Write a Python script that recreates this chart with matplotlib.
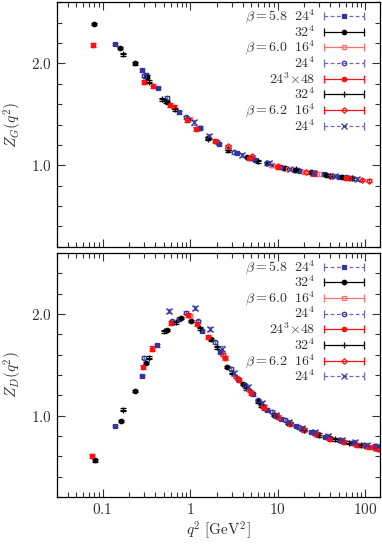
import matplotlib
matplotlib.use("Agg")
import matplotlib.pyplot as plt
from matplotlib.ticker import MultipleLocator, FixedLocator, LogLocator, NullFormatter, FuncFormatter

plt.rcParams['mathtext.fontset'] = 'cm'
plt.rcParams['font.family'] = 'serif'
plt.rcParams['font.serif'] = ['DejaVu Serif']

# ---- data: gluon dressing function Z_G(q^2) ----
g58_24_x = [0.14, 0.28, 0.315, 0.43, 0.75, 1.3, 2.14, 3.4, 5.5, 8.5, 11.8, 18, 27, 34, 50, 68]
g58_24_y = [2.19, 1.93, 1.89, 1.76, 1.52, 1.37, 1.21, 1.12, 1.05, 1.00, 0.97, 0.94, 0.92, 0.91, 0.89, 0.88]
g58_32_x = [0.080, 0.159, 0.236, 0.323, 0.55, 0.95, 1.6, 2.7, 4.5, 7.5, 12, 15.7, 24, 36, 55]
g58_32_y = [2.386, 2.15, 2.00, 1.87, 1.62, 1.45, 1.27, 1.16, 1.08, 1.02, 0.97, 0.95, 0.93, 0.905, 0.885]
g60_16_x = [1.0, 2.7, 5.0, 8.6, 13, 20, 30]
g60_16_y = [1.45, 1.18, 1.08, 1.00, 0.965, 0.935, 0.915]
g60_24_x = [0.30, 0.55, 0.90, 1.3, 2.0, 3.2, 5.0, 7.5, 11, 17, 26, 40, 60]
g60_24_y = [1.88, 1.66, 1.47, 1.37, 1.23, 1.13, 1.07, 1.02, 0.98, 0.95, 0.925, 0.90, 0.885]
g60_2448_x = [0.077, 0.30, 0.378, 0.59, 0.66, 0.92, 1.17, 1.9, 4.7, 10, 26, 61]
g60_2448_y = [2.18, 1.82, 1.78, 1.59, 1.57, 1.44, 1.36, 1.24, 1.07, 0.98, 0.92, 0.88]
g60_32_x = [0.172, 0.34, 0.48, 0.53, 0.67, 1.6, 2.7, 6.0, 16, 40, 70]
g60_32_y = [2.09, 1.82, 1.65, 1.63, 1.55, 1.26, 1.15, 1.04, 0.96, 0.90, 0.875]
g62_16_x = [2.7, 5.1, 10, 21, 42, 65, 91, 110]
g62_16_y = [1.185, 1.09, 0.99, 0.93, 0.90, 0.875, 0.855, 0.85]
g62_24_x = [1.1, 1.65, 3.9, 8.0, 14, 25, 45, 80]
g62_24_y = [1.42, 1.29, 1.10, 1.02, 0.965, 0.925, 0.895, 0.87]

# ---- data: ghost dressing function Z_D(q^2) ----
d58_24_x = [0.14, 0.28, 0.42, 0.75, 1.38, 2.2, 3.5, 5.2, 7.5, 11, 16, 24, 35, 50, 70, 95, 130]
d58_24_y = [0.90, 1.39, 1.69, 1.95, 1.83, 1.63, 1.36, 1.21, 1.06, 0.97, 0.90, 0.84, 0.79, 0.76, 0.73, 0.71, 0.70]
d58_32_x = [0.082, 0.16, 0.236, 0.315, 0.55, 0.78, 1.02, 1.72, 2.66, 4.0, 6.0, 9, 13, 19, 28, 40, 55]
d58_32_y = [0.56, 0.945, 1.245, 1.52, 1.84, 1.96, 1.93, 1.75, 1.48, 1.31, 1.14, 1.01, 0.93, 0.87, 0.82, 0.78, 0.75]
d60_16_x = [1.0, 2.5, 4.5, 7, 10, 14, 20, 28]
d60_16_y = [1.98, 1.57, 1.27, 1.09, 0.99, 0.92, 0.86, 0.82]
d60_24_x = [0.30, 0.62, 0.89, 1.23, 1.9, 2.9, 4.2, 6, 8.5, 12, 17, 25, 36, 52, 75]
d60_24_y = [1.57, 1.93, 2.01, 1.93, 1.72, 1.46, 1.30, 1.15, 1.04, 0.96, 0.89, 0.835, 0.795, 0.76, 0.73]
d60_2448_x = [0.076, 0.29, 0.37, 0.60, 0.95, 1.21, 1.58, 2.5, 3.6, 5, 7, 10, 14, 20, 28, 40, 57, 80, 110, 140]
d60_2448_y = [0.60, 1.48, 1.66, 1.91, 1.99, 1.90, 1.77, 1.57, 1.35, 1.22, 1.08, 0.985, 0.92, 0.86, 0.82, 0.775, 0.745, 0.715, 0.69, 0.675]
d60_32_x = [0.172, 0.34, 0.505, 0.69, 1.3, 2.0, 3.0, 4.4, 6.5, 9.5, 14, 20, 30, 45, 65, 90]
d60_32_y = [1.06, 1.57, 1.83, 1.92, 1.86, 1.67, 1.42, 1.27, 1.10, 1.00, 0.925, 0.86, 0.81, 0.77, 0.735, 0.71]
d62_16_x = [2.4, 3.3, 4.8, 6.8, 9.5, 13.5, 19, 27, 38, 54, 76, 100, 125, 145]
d62_16_y = [1.60, 1.38, 1.24, 1.09, 1.00, 0.93, 0.87, 0.82, 0.78, 0.75, 0.72, 0.70, 0.685, 0.675]
d62_24_x = [0.575, 1.13, 1.69, 2.29, 3.2, 4.6, 6.6, 9.5, 13.5, 19, 27, 38, 54, 76, 105, 140]
d62_24_y = [2.03, 2.06, 1.85, 1.66, 1.42, 1.28, 1.12, 1.01, 0.94, 0.88, 0.835, 0.80, 0.765, 0.74, 0.715, 0.70]

labels = [r'$\beta = 5.8\ \ 24^4$', r'$32^4$', r'$\beta = 6.0\ \ 16^4$', r'$24^4$',
          r'$24^3{\times}48$', r'$32^4$', r'$\beta = 6.2\ \ 16^4$', r'$24^4$']
errors = [0.012, 0.012, 0.015, 0.015, 0.02, 0.015, 0.012, 0.02]

BLUE = '#34349c'
BLUE_L = '#6a6ab8'
RED = '#ff1010'
RED_L = '#ff7070'

# marker, colour, facecolour, legend line colour, dashed
styles = [
    ('s', BLUE, BLUE, BLUE_L, True),
    ('o', 'black', 'black', 'black', False),
    ('s', RED_L, 'none', RED_L, False),
    ('o', BLUE, 'none', BLUE_L, True),
    ('o', RED, RED, RED, False),
    ('+', 'black', 'black', 'black', False),
    ('D', RED, 'none', RED, False),
    ('x', BLUE, BLUE, BLUE_L, True),
]

gluon = [(g58_24_x, g58_24_y), (g58_32_x, g58_32_y), (g60_16_x, g60_16_y), (g60_24_x, g60_24_y),
         (g60_2448_x, g60_2448_y), (g60_32_x, g60_32_y), (g62_16_x, g62_16_y), (g62_24_x, g62_24_y)]
ghost = [(d58_24_x, d58_24_y), (d58_32_x, d58_32_y), (d60_16_x, d60_16_y), (d60_24_x, d60_24_y),
         (d60_2448_x, d60_2448_y), (d60_32_x, d60_32_y), (d62_16_x, d62_16_y), (d62_24_x, d62_24_y)]

fig = plt.figure(figsize=(3.82, 5.45), dpi=100)
ax_top = fig.add_axes([0.149, 0.547, 0.846, 0.449])
ax_bot = fig.add_axes([0.149, 0.088, 0.846, 0.448])


def mk_size(m):
    if m == 'D':
        return 2.8
    if m in ('+', 'x'):
        return 4.0
    return 3.2


def draw_panel(ax, series, ylabel):
    for (xs, ys), (m, c, fc, lc, dashed), err in zip(series, styles, errors):
        ax.errorbar(xs, ys, yerr=err, fmt=m, color=c, mfc=fc, mec=c, ms=mk_size(m),
                    mew=0.9, ecolor=lc, elinewidth=0.8, capsize=2.5, capthick=0.8)
    ax.set_xscale('log')
    ax.set_xlim(0.03, 148)
    ax.set_ylim(0.2, 2.6)
    ax.yaxis.set_major_locator(FixedLocator([1.0, 2.0]))
    ax.yaxis.set_minor_locator(MultipleLocator(0.2))
    ax.yaxis.set_major_formatter(FuncFormatter(lambda v, p: r'$%.1f$' % v))
    ax.xaxis.set_major_locator(LogLocator(base=10))
    ax.xaxis.set_minor_locator(LogLocator(base=10, subs=range(2, 10)))
    ax.xaxis.set_minor_formatter(NullFormatter())
    ax.tick_params(which='both', direction='in', top=True, right=True, labelsize=11, colors='#333333')
    ax.tick_params(which='major', length=6, width=0.8)
    ax.tick_params(which='minor', length=3.5, width=0.8)
    for s in ax.spines.values():
        s.set_linewidth(0.9)
    ax.set_ylabel(ylabel, fontsize=11, color='#333333', labelpad=5)

    # key, drawn the way the original plotting program does it
    x_txt, x0, x1 = 0.80, 0.827, 0.951
    xm = 0.5 * (x0 + x1)
    for i, ((m, c, fc, lc, dashed), lab) in enumerate(zip(styles, labels)):
        y = 0.943 - 0.064 * i
        ax.text(x_txt, y, lab, transform=ax.transAxes, ha='right', va='center',
                fontsize=10, color='#333333')
        ax.plot([x0, x1], [y, y], transform=ax.transAxes, color=lc, lw=0.9,
                ls=(0, (3, 2)) if dashed else '-', clip_on=False)
        ax.plot([x0, x1], [y, y], transform=ax.transAxes, ls='none', marker='|',
                ms=6, mew=0.9, color=lc, clip_on=False)
        ax.plot([xm], [y], transform=ax.transAxes, ls='none', marker=m, color=c,
                mfc=fc, mec=c, ms=mk_size(m), mew=0.9, clip_on=False)


draw_panel(ax_top, gluon, r'$Z_G(q^2)$')
draw_panel(ax_bot, ghost, r'$Z_D(q^2)$')

ax_top.tick_params(labelbottom=False)
ax_bot.xaxis.set_major_formatter(FuncFormatter(lambda v, p: r'$%g$' % v))
ax_bot.set_xlabel(r'$q^2\ [\mathrm{GeV}^2]$', fontsize=11, color='#333333', labelpad=2)

fig.savefig('out.png', dpi=100)
